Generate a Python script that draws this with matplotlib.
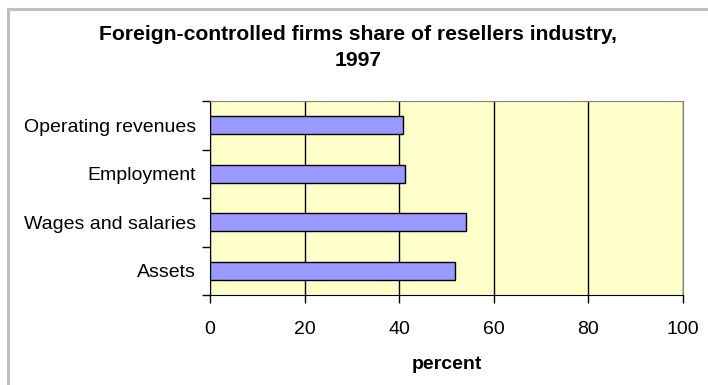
# Foreign-controlled firms share of resellers industry, 1997
# horizontal bar chart, Excel style

import matplotlib.pyplot as plt
from matplotlib.lines import Line2D

categories = ['Operating revenues', 'Employment', 'Wages and salaries', 'Assets']
shares = [40.9, 41.2, 54.2, 51.9]
x_ticks = [0, 20, 40, 60, 80, 100]

plt.rcParams['font.family'] = ['Liberation Sans', 'DejaVu Sans']

W, H = 708, 385
fig = plt.figure(figsize=(W / 100, H / 100), dpi=100)

# gray chart-area border (left and top edges visible)
fig.add_artist(Line2D([8 / W, 8 / W], [0, 1 - 9 / H], color='#c0c0c0', lw=2.2))
fig.add_artist(Line2D([8 / W, 1], [1 - 9 / H, 1 - 9 / H], color='#c0c0c0', lw=2.2))

ax = fig.add_axes([210 / W, 1 - 295 / H, (683 - 210) / W, (295 - 101) / H])
ax.set_facecolor('#ffffcc')

pos = list(range(len(categories)))[::-1]
ax.barh(pos, shares, height=0.37, color='#9999ff', edgecolor='black', linewidth=1.0, zorder=3)

ax.set_xlim(0, 100)
ax.set_ylim(-0.5, len(categories) - 0.5)
ax.set_xticks(x_ticks)
ax.set_xticklabels([str(v) for v in x_ticks], fontsize=14)
ax.set_yticks(pos)
ax.set_yticklabels(categories, fontsize=14)
ax.set_yticks([p - 0.5 for p in range(len(categories) + 1)], minor=True)

ax.tick_params(axis='y', which='major', length=0, pad=10)
ax.tick_params(axis='y', which='minor', length=6, width=1, direction='out')
ax.tick_params(axis='x', length=6, width=1, direction='out', pad=13)

ax.grid(axis='x', color='black', linewidth=1, zorder=1)
for s in ['top', 'right']:
    ax.spines[s].set_color('#808080')
for s in ['left', 'bottom']:
    ax.spines[s].set_color('black')

ax.set_xlabel('percent', fontsize=14, fontweight='bold', labelpad=13)

fig.text(358 / W, 1 - 25 / H, 'Foreign-controlled firms share of resellers industry,\n1997',
         ha='center', va='top', fontsize=15.2, fontweight='bold', linespacing=1.45)

fig.savefig('out.png', dpi=100)
